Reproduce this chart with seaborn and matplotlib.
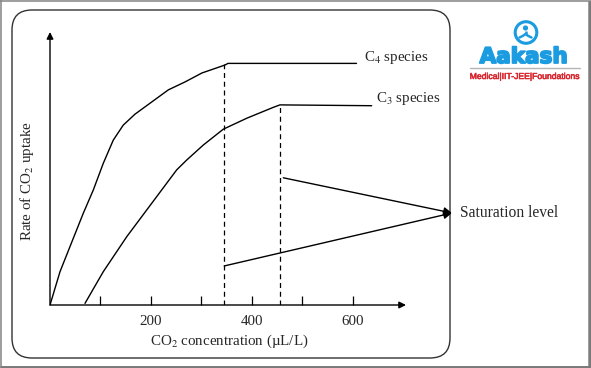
import numpy as np
import pandas as pd
import matplotlib
matplotlib.use('Agg')
import matplotlib.pyplot as plt
import matplotlib.patheffects as pe
import seaborn as sns
from matplotlib.patches import FancyBboxPatch, Circle

# CO2 uptake curves (x in uL/L, y in arbitrary rate units 0-100)
c4_x = [0, 19.8, 39.6, 65.9, 85.7, 105.5, 125.3, 145.1, 168.3, 198, 234.3, 267.3, 301, 346.5, 352.5, 607]
c4_y = [0, 12.2, 21.4, 33.6, 42.1, 51.9, 60.4, 65.9, 69.9, 73.9, 78.8, 81.7, 85.0, 87.9, 88.5, 88.5]
c3_x = [69.3, 105.5, 151.9, 211.3, 250.9, 270.7, 303.6, 343.2, 389.5, 442.2, 455.4, 637]
c3_y = [0.6, 12.2, 25.0, 39.7, 49.5, 53.1, 58.6, 64.4, 68.4, 72.4, 73.3, 73.0]

# saturation points (C4, C3)
sat_x = [345, 455]
sat_y = [88.3, 73.3]

xticks = [100, 200, 300, 400, 500, 600]
xtick_labels = ['', '200', '', '400', '', '600']

df = pd.concat([
    pd.DataFrame({'co2': c4_x, 'rate': c4_y, 'species': 'C4'}),
    pd.DataFrame({'co2': c3_x, 'rate': c3_y, 'species': 'C3'}),
])

sns.set_style('white')
plt.rcParams['font.family'] = ['Liberation Serif', 'DejaVu Serif']
plt.rcParams['mathtext.fontset'] = 'stix'

fig = plt.figure(figsize=(5.91, 3.68), dpi=100)

# background layer in pixel coords (origin top-left)
bg = fig.add_axes([0, 0, 1, 1], zorder=0)
bg.set_xlim(0, 591)
bg.set_ylim(368, 0)
bg.axis('off')

# outer gray frame
bg.plot([1, 589, 589, 1, 1], [1, 1, 366.5, 366.5, 1], color='#8c8c8c', lw=1.2)
bg.plot([589.5, 589.5], [1, 367], color='#7a7a7a', lw=2)
bg.plot([1, 590], [367, 367], color='#7a7a7a', lw=2)

# rounded panel
bg.add_patch(FancyBboxPatch((12, 10), 438, 348,
                            boxstyle='round,pad=0,rounding_size=20',
                            fc='white', ec='#333333', lw=1.0))

# logo
blue = '#1b9be0'
bg.add_patch(Circle((526, 32.5), 10.8, fill=False, ec=blue, lw=2.2))
bg.add_patch(Circle((525.5, 28), 1.9, color=blue))
bg.plot([525.5, 525.5], [31, 34.5], color=blue, lw=1.8, solid_capstyle='butt')
bg.plot([519.5, 523, 525.5, 528, 531.5], [37.5, 35.8, 34, 35.8, 37.5], color=blue, lw=1.8)
bg.text(523.5, 57, 'Aakash', color=blue, fontsize=15.5, fontweight='heavy',
        family='DejaVu Sans', ha='center', va='center',
        path_effects=[pe.withStroke(linewidth=1.3, foreground=blue)])
bg.plot([470, 580], [68.3, 68.3], color='#b5b5b5', lw=1)
bg.text(525, 76.5, 'Medical|IIT-JEE|Foundations', color='#d9262f', fontsize=6.2,
        family='Liberation Sans', ha='center', va='center',
        path_effects=[pe.withStroke(linewidth=0.4, foreground='#d9262f')])

# main chart axes
ax = fig.add_axes([50 / 591, 63 / 368, 356 / 591, 273 / 368], zorder=1)
ax.patch.set_alpha(0)

sns.lineplot(data=df, x='co2', y='rate', hue='species', units='species',
             estimator=None, sort=False, palette=['black', 'black'],
             lw=1.0, legend=False, ax=ax)

ax.vlines(sat_x, [0, 0], sat_y, colors='black', linestyles=(0, (4, 3)), lw=0.9)

ax.set_xlim(0, 705)
ax.set_ylim(0, 100)
for s in ax.spines.values():
    s.set_visible(False)

# axes with arrow heads
arrow = dict(arrowstyle='-|>', color='black', lw=1.0, shrinkA=0, shrinkB=0,
             mutation_scale=10)
ax.annotate('', xy=(705, 0), xytext=(0, 0), arrowprops=arrow, annotation_clip=False)
ax.annotate('', xy=(0, 100), xytext=(0, 0), arrowprops=arrow, annotation_clip=False)

ax.set_xticks(xticks)
ax.set_xticklabels(xtick_labels)
ax.set_yticks([])
ax.tick_params(axis='x', direction='in', length=6.8, width=0.9, pad=7,
               labelsize=10.8, color='black', bottom=True)

ax.set_xlabel('CO$_2$ concentration (µL/L)', fontsize=10.8)
ax.xaxis.set_label_coords(0.503, -0.102)
ax.set_ylabel('Rate of CO$_2$ uptake', fontsize=10.8)
ax.yaxis.set_label_coords(-0.04, 0.454)

# curve labels
ax.text(622, 90.5, 'C$_4$ species', fontsize=10.8, va='center', ha='left')
ax.text(645, 75.8, 'C$_3$ species', fontsize=10.8, va='center', ha='left')

# saturation arrows
tip = (796, 33.7)
sarrow = dict(arrowstyle='-|>', color='black', lw=1.0, shrinkA=0, shrinkB=0,
              mutation_scale=12)
ax.annotate('', xy=tip, xytext=(462, 46.6), arrowprops=sarrow, annotation_clip=False)
ax.annotate('', xy=tip, xytext=(345, 14.3), arrowprops=sarrow, annotation_clip=False)
ax.text(811, 33.7, 'Saturation level', fontsize=11.2, va='center', ha='left')

fig.savefig('out.png', dpi=100)
